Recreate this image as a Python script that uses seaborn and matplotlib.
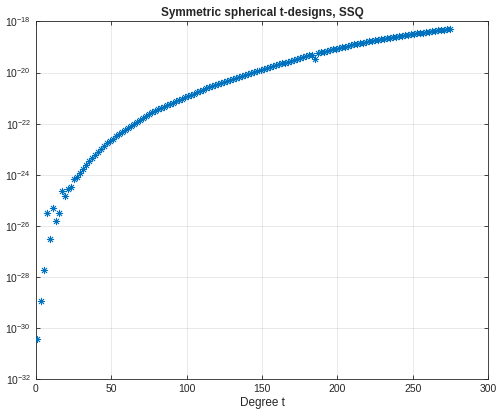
import matplotlib
matplotlib.use("Agg")
import matplotlib.pyplot as plt
import matplotlib.ticker as mticker
import numpy as np
import pandas as pd
import seaborn as sns

# odd degrees t = 1, 3, ..., 275
degrees = list(range(1, 276, 2))

# log10 of SSQ
log_ssq = [
    -30.45, -28.93, -27.74, -25.50, -26.50, -25.32, -25.80, -25.50, -24.65, -24.85,
    -24.56, -24.48, -24.18, -24.08, -23.92, -23.78, -23.62, -23.45, -23.34, -23.21,
    -23.10, -22.99, -22.88, -22.77, -22.69, -22.60, -22.50, -22.41, -22.33, -22.24,
    -22.16, -22.08, -22.00, -21.92, -21.84, -21.76, -21.69, -21.62, -21.56, -21.50,
    -21.44, -21.39, -21.33, -21.28, -21.23, -21.18, -21.13, -21.08, -21.03, -20.97,
    -20.92, -20.87, -20.82, -20.77, -20.72, -20.67, -20.62, -20.58, -20.54, -20.50,
    -20.46, -20.42, -20.38, -20.34, -20.30, -20.26, -20.22, -20.18, -20.14, -20.10,
    -20.06, -20.02, -19.98, -19.94, -19.90, -19.86, -19.82, -19.78, -19.75, -19.71,
    -19.68, -19.64, -19.61, -19.57, -19.54, -19.50, -19.47, -19.43, -19.40, -19.36,
    -19.33, -19.30, -19.47, -19.24, -19.21, -19.18, -19.15, -19.12, -19.09, -19.06,
    -19.03, -19.00, -18.98, -18.95, -18.93, -18.90, -18.88, -18.85, -18.83, -18.80,
    -18.78, -18.76, -18.74, -18.72, -18.70, -18.68, -18.66, -18.64, -18.62, -18.60,
    -18.58, -18.56, -18.54, -18.52, -18.50, -18.49, -18.47, -18.45, -18.44, -18.42,
    -18.40, -18.39, -18.37, -18.35, -18.34, -18.32, -18.31, -18.29,
]

df = pd.DataFrame({"t": degrees, "ssq": 10.0 ** np.array(log_ssq)})

sns.set_style("ticks")
plt.rcParams["font.family"] = ["Liberation Sans", "DejaVu Sans"]

fig = plt.figure(figsize=(4.97, 4.11), dpi=100)
ax = fig.add_axes([0.0724, 0.0779, 0.9096, 0.8698])

sns.scatterplot(data=df, x="t", y="ssq", marker=(8, 2, 0), s=22,
                color="#0072BD", linewidth=0.6, ax=ax, zorder=3)

ax.set_yscale("log")
ax.set_ylim(1e-32, 1e-18)
ax.set_xlim(0, 300)
ax.set_yticks([10.0 ** k for k in range(-32, -17, 2)])
ax.yaxis.set_minor_locator(mticker.NullLocator())
ax.set_xticks(range(0, 301, 50))

ax.set_axisbelow(True)
ax.grid(True, color="black", alpha=0.1, linewidth=0.6)
ax.tick_params(direction="in", top=True, right=True, length=3, width=0.6,
               labelsize=7.5, colors="#262626")
for sp in ax.spines.values():
    sp.set_visible(True)
    sp.set_color("#262626")
    sp.set_linewidth(0.6)

ax.set_title("Symmetric spherical t-designs, SSQ", fontsize=8.5,
             fontweight="bold", pad=4)
ax.set_xlabel("Degree t", fontsize=8.5, color="#262626", labelpad=2)
ax.set_ylabel("")

fig.savefig("out.png", dpi=100)
